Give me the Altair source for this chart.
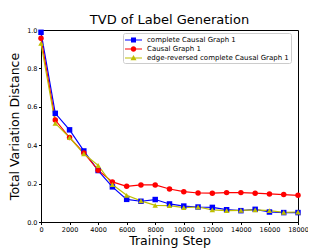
import altair as alt
import pandas as pd

steps = list(range(0, 19000, 1000))
series_names = ["complete Causal Graph 1", "Causal Graph 1", "edge-reversed complete Causal Graph 1"]
complete_cg1 = [0.988, 0.566, 0.48, 0.37, 0.268, 0.183, 0.118, 0.108, 0.117, 0.094, 0.083, 0.078, 0.076, 0.064, 0.059, 0.066, 0.052, 0.049, 0.049]
cg1 = [0.957, 0.531, 0.44, 0.36, 0.27, 0.209, 0.186, 0.193, 0.193, 0.172, 0.158, 0.151, 0.15, 0.153, 0.153, 0.15, 0.146, 0.143, 0.139]
reversed_cg1 = [0.93, 0.514, 0.44, 0.355, 0.295, 0.195, 0.139, 0.11, 0.087, 0.085, 0.075, 0.078, 0.063, 0.059, 0.061, 0.063, 0.059, 0.05, 0.052]
colors = ["#0000ff", "#ff0000", "#bfbf00"]
shapes = ["square", "circle", "triangle-up"]
legend_shapes = [
    "M-1,-0.1H2.4V0.1H-1Z M0.2,-0.5H1.2V0.5H0.2Z",
    "M-1,-0.1H2.4V0.1H-1Z M1.25,0A0.55,0.55,0,1,1,0.15,0A0.55,0.55,0,1,1,1.25,0Z",
    "M-1,-0.1H2.4V0.1H-1Z M0.7,-0.6L1.3,0.45L0.1,0.45Z",
]
x_ticks = list(range(0, 18001, 2000))
y_ticks = [0.0, 0.2, 0.4, 0.6, 0.8, 1.0]

rows = []
for name, vals in zip(series_names, [complete_cg1, cg1, reversed_cg1]):
    for s, v in zip(steps, vals):
        rows.append({"step": s, "tvd": v, "series": name})
df = pd.DataFrame(rows)

x = alt.X("step:Q", scale=alt.Scale(domain=[0, 18000], nice=False),
          axis=alt.Axis(values=x_ticks, title="Training Step", format="d", grid=False,
                        labelOverlap=False, labelFlush=False))
y = alt.Y("tvd:Q", scale=alt.Scale(domain=[0, 1], nice=False),
          axis=alt.Axis(values=y_ticks, format=".1f", title="Total Variation Distance", grid=False,
                        labelOverlap=False, labelFlush=False))

color_scale = alt.Scale(domain=series_names, range=colors)

lines = alt.Chart(df).mark_line(strokeWidth=1.2).encode(
    x=x, y=y, color=alt.Color("series:N", scale=color_scale, legend=None))

points = alt.Chart(df).mark_point(filled=True, size=30, opacity=1).encode(
    x=x, y=y,
    color=alt.Color("series:N", scale=color_scale, legend=None),
    shape=alt.Shape("series:N", scale=alt.Scale(domain=series_names, range=shapes), legend=None))

legend_layer = alt.Chart(df).transform_filter("false").mark_point(filled=True, opacity=1).encode(
    x=x, y=y,
    color=alt.Color("series:N", scale=color_scale,
                    legend=alt.Legend(title=None, orient="none", legendX=82, legendY=3)),
    shape=alt.Shape("series:N", scale=alt.Scale(domain=series_names, range=legend_shapes),
                    legend=alt.Legend(title=None, orient="none", legendX=82, legendY=3)))

chart = alt.layer(lines, points, legend_layer).resolve_scale(
    color="independent", shape="independent"
).properties(
    width=257, height=192,
    autosize="none",
    padding={"left": 33, "top": 22, "right": 10, "bottom": 27},
    title=alt.Title("TVD of Label Generation", fontSize=13, font="DejaVu Sans",
                    fontWeight="normal", offset=2, frame="group", dy=2, color="black"),
).configure_view(
    stroke="black", strokeWidth=1
).configure_axis(
    domainColor="black", tickColor="black", labelColor="black", titleColor="black",
    labelFont="DejaVu Sans", titleFont="DejaVu Sans", titleFontWeight="normal",
    labelFontSize=6.5, titleFontSize=12.5, tickSize=2.5, labelPadding=1.5,
).configure_axisX(
    titlePadding=2
).configure_axisY(
    titlePadding=5
).configure_legend(
    padding=2, strokeColor="#cccccc", fillColor="white", cornerRadius=2,
    symbolSize=100, labelFontSize=7, labelFont="DejaVu Sans", labelOffset=12,
    rowPadding=1, symbolStrokeWidth=0, labelColor="black",
)

chart.save("out.html", embed_options={"renderer": "svg", "actions": False})
